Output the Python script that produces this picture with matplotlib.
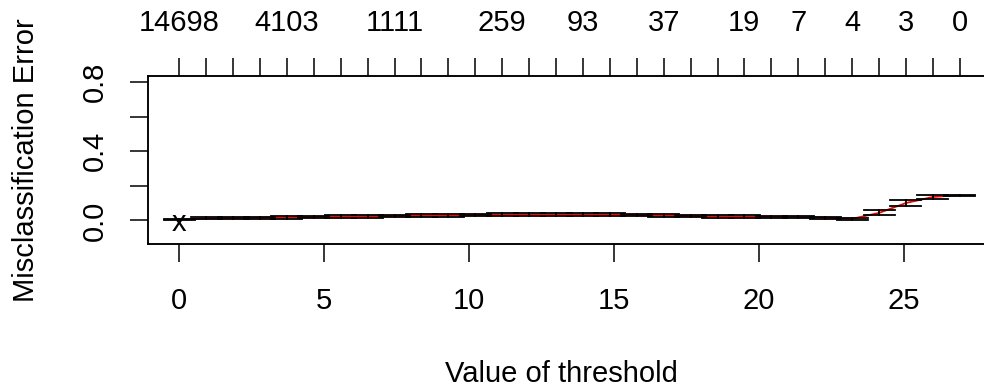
import matplotlib
matplotlib.use("Agg")
import matplotlib.pyplot as plt

plt.rcParams['font.family'] = ['Liberation Sans', 'DejaVu Sans']

# threshold values (30 steps)
threshold = [0.00, 0.93, 1.86, 2.78, 3.71, 4.64, 5.57, 6.50, 7.43, 8.35,
             9.28, 10.21, 11.14, 12.07, 13.00, 13.92, 14.85, 15.78, 16.71, 17.64,
             18.57, 19.49, 20.42, 21.35, 22.28, 23.21, 24.14, 25.06, 25.99, 26.92]
# misclassification error and its standard error
err = [0.005, 0.012, 0.014, 0.016, 0.018, 0.020, 0.022, 0.024, 0.026, 0.028,
       0.030, 0.032, 0.033, 0.034, 0.034, 0.034, 0.033, 0.032, 0.028, 0.026,
       0.024, 0.022, 0.020, 0.020, 0.016, 0.010, 0.044, 0.101, 0.136, 0.147]
se = [0.004, 0.006, 0.006, 0.007, 0.007, 0.007, 0.007, 0.008, 0.008, 0.008,
      0.008, 0.008, 0.008, 0.008, 0.008, 0.008, 0.008, 0.008, 0.008, 0.007,
      0.007, 0.007, 0.007, 0.007, 0.006, 0.005, 0.015, 0.015, 0.012, 0.003]
# number of genes shown on top axis (blank where R dropped overlapping labels)
size_labels = ["14698", "", "", "", "4103", "", "", "", "1111", "",
               "", "", "259", "", "", "93", "", "", "37", "",
               "", "19", "", "7", "", "4", "", "3", "", "0"]
yticks = [0.0, 0.2, 0.4, 0.6, 0.8]
ytick_labels = ["0.0", "", "0.4", "", "0.8"]
xticks = [0, 5, 10, 15, 20, 25]

fs = 21
fig = plt.figure(figsize=(9.84, 3.92), dpi=100)
ax = fig.add_axes([148 / 984, 148 / 392, 843 / 984, 168 / 392])

ax.plot(threshold, err, color="red", lw=1.3, zorder=2)

# error bars like R's error.bars (caps = 2% of x range)
barw = (max(threshold) - min(threshold)) * 0.02
for x, e, s in zip(threshold, err, se):
    lo, hi = e - s, e + s
    ax.plot([x, x], [lo, hi], color="black", lw=1.3, zorder=3)
    ax.plot([x - barw, x + barw], [hi, hi], color="black", lw=1.3, zorder=3)
    ax.plot([x - barw, x + barw], [lo, lo], color="black", lw=1.3, zorder=3)

# mark minimum error
imin = err.index(min(err))
ax.text(threshold[imin], err[imin], "x", fontsize=fs, ha="center", va="center_baseline",
        zorder=4)

ax.set_xlim(-1.077, 27.997)
ax.set_ylim(-0.136, 0.836)

ax.set_xticks(xticks)
ax.set_xticklabels([str(t) for t in xticks], fontsize=fs)
ax.set_yticks(yticks)
ax.set_yticklabels(ytick_labels, fontsize=fs, rotation=90, va="center")
ax.tick_params(axis="x", length=13, width=1.1, pad=18)
ax.tick_params(axis="y", length=13, width=1.1, pad=15)

top = ax.twiny()
top.set_xlim(ax.get_xlim())
top.set_xticks(threshold)
top.set_xticklabels(size_labels, fontsize=fs)
top.tick_params(axis="x", length=13, width=1.1, pad=15)

for a in (ax, top):
    for sp in a.spines.values():
        sp.set_linewidth(1.1)

ax.set_xlabel("Value of threshold", fontsize=fs)
ax.xaxis.set_label_coords(0.49, -0.69)
ax.set_ylabel("Misclassification Error", fontsize=fs)
ax.yaxis.set_label_coords(-0.128, 0.5)

fig.savefig("out.png", dpi=100)
